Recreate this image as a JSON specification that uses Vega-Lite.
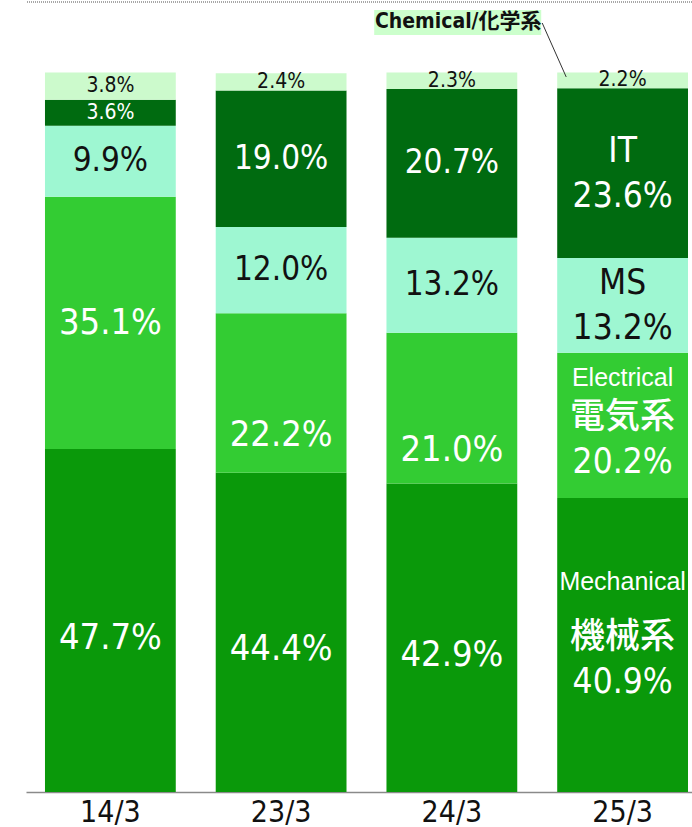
{
  "$schema": "https://vega.github.io/schema/vega-lite/v6.json",
  "width": 666,
  "height": 790,
  "autosize": {"type": "none"},
  "padding": {"left": 26, "top": 2, "right": 0, "bottom": 35},
  "background": "white",
  "config": {"view": {"stroke": null}},
  "data": {"values": [
    {"period": "14/3", "cat": "Mechanical", "ord": 1, "value": 47.7, "lbl": "47.7%", "en": ""},
    {"period": "14/3", "cat": "Electrical", "ord": 2, "value": 35.1, "lbl": "35.1%", "en": ""},
    {"period": "14/3", "cat": "MS", "ord": 3, "value": 9.9, "lbl": "9.9%", "en": ""},
    {"period": "14/3", "cat": "IT", "ord": 4, "value": 3.6, "lbl": "3.6%", "en": ""},
    {"period": "14/3", "cat": "Chemical", "ord": 5, "value": 3.8, "lbl": "3.8%", "en": ""},
    {"period": "23/3", "cat": "Mechanical", "ord": 1, "value": 44.4, "lbl": "44.4%", "en": ""},
    {"period": "23/3", "cat": "Electrical", "ord": 2, "value": 22.2, "lbl": "22.2%", "en": ""},
    {"period": "23/3", "cat": "MS", "ord": 3, "value": 12.0, "lbl": "12.0%", "en": ""},
    {"period": "23/3", "cat": "IT", "ord": 4, "value": 19.0, "lbl": "19.0%", "en": ""},
    {"period": "23/3", "cat": "Chemical", "ord": 5, "value": 2.4, "lbl": "2.4%", "en": ""},
    {"period": "24/3", "cat": "Mechanical", "ord": 1, "value": 42.9, "lbl": "42.9%", "en": ""},
    {"period": "24/3", "cat": "Electrical", "ord": 2, "value": 21.0, "lbl": "21.0%", "en": ""},
    {"period": "24/3", "cat": "MS", "ord": 3, "value": 13.2, "lbl": "13.2%", "en": ""},
    {"period": "24/3", "cat": "IT", "ord": 4, "value": 20.7, "lbl": "20.7%", "en": ""},
    {"period": "24/3", "cat": "Chemical", "ord": 5, "value": 2.3, "lbl": "2.3%", "en": ""},
    {"period": "25/3", "cat": "Mechanical", "ord": 1, "value": 40.9, "lbl": "機械系\n40.9%", "en": "Mechanical"},
    {"period": "25/3", "cat": "Electrical", "ord": 2, "value": 20.2, "lbl": "電気系\n20.2%", "en": "Electrical"},
    {"period": "25/3", "cat": "MS", "ord": 3, "value": 13.2, "lbl": "MS\n13.2%", "en": ""},
    {"period": "25/3", "cat": "IT", "ord": 4, "value": 23.6, "lbl": "IT\n23.6%", "en": ""},
    {"period": "25/3", "cat": "Chemical", "ord": 5, "value": 2.2, "lbl": "2.2%", "en": ""}
  ]},
  "transform": [
    {"stack": "value", "groupby": ["period"], "sort": [{"field": "ord", "order": "ascending"}], "as": ["y0", "y1"]},
    {"calculate": "(datum.y0 + datum.y1) / 2", "as": "mid"}
  ],
  "encoding": {
    "x": {
      "field": "period", "type": "ordinal", "sort": ["14/3", "23/3", "24/3", "25/3"],
      "scale": {"type": "band", "paddingInner": 0.234, "paddingOuter": 0.0673, "align": 0.826},
      "axis": {"title": null, "labelAngle": 0, "domain": true, "domainColor": "#8a8a8a", "domainWidth": 1.5, "ticks": false,
               "labelFont": "DejaVu Sans Condensed, sans-serif", "labelFontSize": 30, "labelColor": "#111", "labelPadding": 5}
    }
  },
  "layer": [
    {
      "mark": {"type": "bar"},
      "encoding": {
        "y": {"field": "y1", "type": "quantitative", "scale": {"domain": [0, 109.9], "nice": false, "zero": true},
              "axis": {"title": null, "labels": false, "ticks": false, "domain": false, "grid": true, "values": [25, 50, 75, 100], "gridColor": "#e8e8e8"}},
        "y2": {"field": "y0"},
        "color": {"field": "cat", "type": "nominal", "legend": null,
                  "scale": {"domain": ["Mechanical", "Electrical", "MS", "IT", "Chemical"],
                            "range": ["#0a990a", "#33cc33", "#9ef7d2", "#006b10", "#ccfacc"]}}
      }
    },
    {
      "transform": [{"filter": "datum.period == '25/3' ? datum.ord == 5 : (datum.ord >= 3 || (datum.period == '14/3' && datum.ord == 2))"}],
      "mark": {"type": "text", "baseline": "middle", "align": "center", "font": "DejaVu Sans Condensed, sans-serif"},
      "encoding": {
        "y": {"field": "mid", "type": "quantitative", "scale": {"domain": [0, 109.9], "nice": false}, "axis": null},
        "text": {"field": "lbl"},
        "size": {"condition": [{"test": "datum.value < 5", "value": 21}, {"test": "datum.ord == 2", "value": 36}], "value": 33},
        "color": {"condition": {"test": "datum.ord == 4 || datum.ord == 2", "value": "#ffffff"}, "value": "#111111"}
      }
    },
    {
      "transform": [{"filter": "(datum.period == '23/3' || datum.period == '24/3') && datum.ord == 2"}],
      "mark": {"type": "text", "baseline": "middle", "align": "center", "dy": 42, "fontSize": 36, "color": "#ffffff", "font": "DejaVu Sans Condensed, sans-serif"},
      "encoding": {
        "y": {"field": "mid", "type": "quantitative", "scale": {"domain": [0, 109.9], "nice": false}, "axis": null},
        "text": {"field": "lbl"}
      }
    },
    {
      "transform": [{"filter": "datum.period != '25/3' && datum.ord == 1"}],
      "mark": {"type": "text", "baseline": "middle", "align": "center", "dy": 17, "fontSize": 36, "color": "#ffffff", "font": "DejaVu Sans Condensed, sans-serif"},
      "encoding": {
        "y": {"field": "mid", "type": "quantitative", "scale": {"domain": [0, 109.9], "nice": false}, "axis": null},
        "text": {"field": "lbl"}
      }
    },
    {
      "transform": [{"filter": "datum.period == '25/3' && (datum.ord == 3 || datum.ord == 4)"}],
      "mark": {"type": "text", "baseline": "middle", "align": "center", "lineBreak": "\n", "lineHeight": 45, "dy": -22, "fontSize": 35, "font": "DejaVu Sans Condensed, sans-serif"},
      "encoding": {
        "y": {"field": "mid", "type": "quantitative", "scale": {"domain": [0, 109.9], "nice": false}, "axis": null},
        "text": {"field": "lbl"},
        "color": {"condition": {"test": "datum.ord == 4", "value": "#ffffff"}, "value": "#111111"}
      }
    },
    {
      "transform": [{"filter": "datum.period == '25/3' && datum.ord <= 2"}],
      "mark": {"type": "text", "baseline": "middle", "align": "center", "lineBreak": "\n", "lineHeight": 45, "dy": -8, "fontSize": 35, "fontWeight": 500, "color": "#ffffff", "font": "DejaVu Sans Condensed, Noto Sans CJK JP, sans-serif"},
      "encoding": {
        "y": {"field": "mid", "type": "quantitative", "scale": {"domain": [0, 109.9], "nice": false}, "axis": null},
        "text": {"field": "lbl"}
      }
    },
    {
      "transform": [{"filter": "datum.period == '25/3' && datum.ord == 2"}],
      "mark": {"type": "text", "baseline": "middle", "align": "center", "dy": -47, "fontSize": 25, "color": "#ffffff", "font": "Liberation Sans, sans-serif"},
      "encoding": {
        "y": {"field": "mid", "type": "quantitative", "scale": {"domain": [0, 109.9], "nice": false}, "axis": null},
        "text": {"field": "en"}
      }
    },
    {
      "transform": [{"filter": "datum.period == '25/3' && datum.ord == 1"}],
      "mark": {"type": "text", "baseline": "middle", "align": "center", "dy": -63, "fontSize": 25, "color": "#ffffff", "font": "Liberation Sans, sans-serif"},
      "encoding": {
        "y": {"field": "mid", "type": "quantitative", "scale": {"domain": [0, 109.9], "nice": false}, "axis": null},
        "text": {"field": "en"}
      }
    },
    {
      "data": {"values": [{"top": 109.9}]},
      "mark": {"type": "rule", "color": "#8a8a8a", "strokeDash": [1, 1], "strokeWidth": 1.5},
      "encoding": {
        "x": null,
        "y": {"field": "top", "type": "quantitative", "scale": {"domain": [0, 109.9], "nice": false}, "axis": null}
      }
    },
    {
      "data": {"values": [{"p": "25/3", "ytop": 108.8, "ybot": 105.3}]},
      "mark": {"type": "rect", "color": "#ccffcc", "xOffset": -183, "x2Offset": -16},
      "encoding": {
        "x": {"field": "p", "type": "ordinal", "bandPosition": 0},
        "x2": {"field": "p", "bandPosition": 0},
        "y": {"field": "ytop", "type": "quantitative", "scale": {"domain": [0, 109.9], "nice": false}, "axis": null},
        "y2": {"field": "ybot"}
      }
    },
    {
      "data": {"values": [{"p": "25/3", "y": 107.05, "t": "Chemical/化学系"}]},
      "mark": {"type": "text", "align": "center", "baseline": "middle", "dx": -99, "fontSize": 21, "fontWeight": "bold", "color": "#111111", "font": "DejaVu Sans Condensed, Noto Sans CJK JP, sans-serif"},
      "encoding": {
        "x": {"field": "p", "type": "ordinal", "bandPosition": 0},
        "y": {"field": "y", "type": "quantitative", "scale": {"domain": [0, 109.9], "nice": false}, "axis": null},
        "text": {"field": "t"}
      }
    },
    {
      "data": {"values": [{"p": "25/3", "ya": 106.98, "yb": 99.47}]},
      "mark": {"type": "rule", "color": "#333333", "strokeWidth": 1, "xOffset": -15, "x2Offset": 9},
      "encoding": {
        "x": {"field": "p", "type": "ordinal", "bandPosition": 0},
        "x2": {"field": "p", "bandPosition": 0},
        "y": {"field": "ya", "type": "quantitative", "scale": {"domain": [0, 109.9], "nice": false}, "axis": null},
        "y2": {"field": "yb"}
      }
    }
  ]
}
